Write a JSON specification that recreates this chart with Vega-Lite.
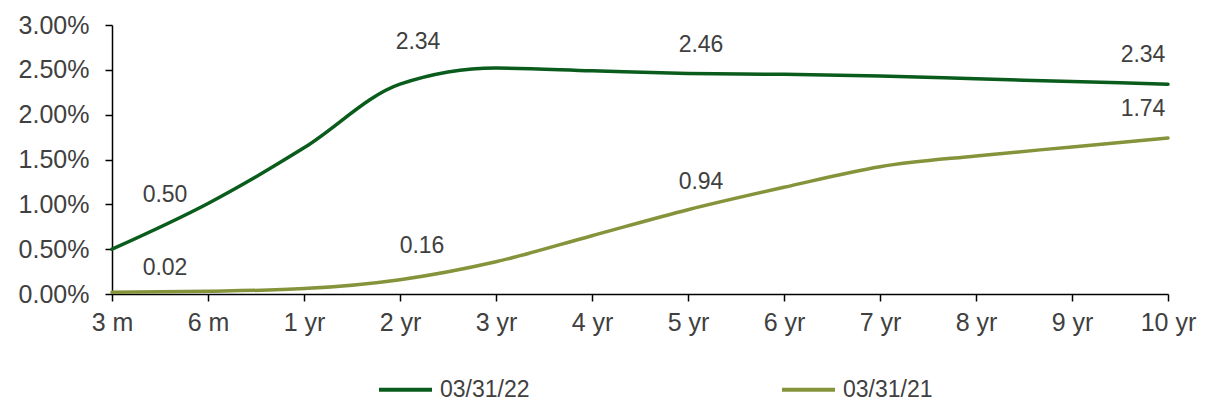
{
  "$schema": "https://vega.github.io/schema/vega-lite/v6.json",
  "width": 1056,
  "height": 269,
  "autosize": {"type": "none"},
  "padding": {"left": 112, "top": 25, "right": 40, "bottom": 109},
  "background": "white",
  "config": {
    "view": {"stroke": null},
    "font": "Liberation Sans",
    "text": {"font": "Liberation Sans", "fontSize": 23, "color": "#404040"}
  },
  "data": {
    "values": [
      {"term": "3 m", "series": "03/31/22", "rate": 0.50},
      {"term": "6 m", "series": "03/31/22", "rate": 1.01},
      {"term": "1 yr", "series": "03/31/22", "rate": 1.63},
      {"term": "2 yr", "series": "03/31/22", "rate": 2.34},
      {"term": "3 yr", "series": "03/31/22", "rate": 2.52},
      {"term": "4 yr", "series": "03/31/22", "rate": 2.49},
      {"term": "5 yr", "series": "03/31/22", "rate": 2.46},
      {"term": "6 yr", "series": "03/31/22", "rate": 2.45},
      {"term": "7 yr", "series": "03/31/22", "rate": 2.43},
      {"term": "8 yr", "series": "03/31/22", "rate": 2.40},
      {"term": "9 yr", "series": "03/31/22", "rate": 2.37},
      {"term": "10 yr", "series": "03/31/22", "rate": 2.34},
      {"term": "3 m", "series": "03/31/21", "rate": 0.02},
      {"term": "6 m", "series": "03/31/21", "rate": 0.03},
      {"term": "1 yr", "series": "03/31/21", "rate": 0.06},
      {"term": "2 yr", "series": "03/31/21", "rate": 0.16},
      {"term": "3 yr", "series": "03/31/21", "rate": 0.36},
      {"term": "4 yr", "series": "03/31/21", "rate": 0.65},
      {"term": "5 yr", "series": "03/31/21", "rate": 0.94},
      {"term": "6 yr", "series": "03/31/21", "rate": 1.19},
      {"term": "7 yr", "series": "03/31/21", "rate": 1.42},
      {"term": "8 yr", "series": "03/31/21", "rate": 1.54},
      {"term": "9 yr", "series": "03/31/21", "rate": 1.64},
      {"term": "10 yr", "series": "03/31/21", "rate": 1.74}
    ]
  },
  "encoding": {
    "x": {
      "field": "term", "type": "ordinal",
      "sort": ["3 m", "6 m", "1 yr", "2 yr", "3 yr", "4 yr", "5 yr", "6 yr", "7 yr", "8 yr", "9 yr", "10 yr"],
      "scale": {"type": "point", "padding": 0},
      "axis": {
        "title": null, "labelAngle": 0, "labelFontSize": 25, "labelColor": "#404040",
        "labelFont": "Liberation Sans", "domainColor": "#000000", "domainWidth": 1.5,
        "tickColor": "#000000", "tickWidth": 1.5, "tickSize": 7, "labelPadding": 9, "grid": false
      }
    },
    "y": {
      "field": "rate", "type": "quantitative",
      "scale": {"domain": [0, 3], "nice": false},
      "axis": {
        "title": null, "values": [0, 0.5, 1, 1.5, 2, 2.5, 3],
        "labelExpr": "format(datum.value, '.2f') + '%'",
        "labelFontSize": 25, "labelColor": "#404040", "labelFont": "Liberation Sans",
        "domainColor": "#000000", "domainWidth": 1.5, "tickColor": "#000000", "tickWidth": 1.5,
        "tickSize": 7, "labelPadding": 16, "grid": false
      }
    }
  },
  "layer": [
    {
      "mark": {"type": "line", "interpolate": "monotone", "strokeWidth": 3.5, "strokeCap": "round"},
      "encoding": {
        "color": {
          "field": "series", "type": "nominal",
          "sort": ["03/31/22", "03/31/21"],
          "scale": {"domain": ["03/31/22", "03/31/21"], "range": ["#0a5c1c", "#86933b"]},
          "legend": {
            "title": null, "orient": "none", "direction": "horizontal",
            "legendX": 265, "legendY": 336,
            "symbolType": "stroke", "symbolSize": 2809, "symbolStrokeWidth": 4,
            "labelFontSize": 23, "labelColor": "#404040", "labelFont": "Liberation Sans",
            "labelOffset": 6, "columnPadding": 244, "padding": 0
          }
        }
      }
    },
    {
      "transform": [{"filter": "datum.term == '3 m' && datum.series == '03/31/22'"}],
      "mark": {"type": "text", "dx": 53, "dy": -54, "baseline": "middle"},
      "encoding": {"text": {"field": "rate", "type": "quantitative", "format": ".2f"}}
    },
    {
      "transform": [{"filter": "datum.term == '3 m' && datum.series == '03/31/21'"}],
      "mark": {"type": "text", "dx": 53, "dy": -24, "baseline": "middle"},
      "encoding": {"text": {"field": "rate", "type": "quantitative", "format": ".2f"}}
    },
    {
      "transform": [{"filter": "datum.term == '2 yr' && datum.series == '03/31/22'"}],
      "mark": {"type": "text", "dx": 18, "dy": -42, "baseline": "middle"},
      "encoding": {"text": {"field": "rate", "type": "quantitative", "format": ".2f"}}
    },
    {
      "transform": [{"filter": "datum.term == '2 yr' && datum.series == '03/31/21'"}],
      "mark": {"type": "text", "dx": 22, "dy": -34, "baseline": "middle"},
      "encoding": {"text": {"field": "rate", "type": "quantitative", "format": ".2f"}}
    },
    {
      "transform": [{"filter": "datum.term == '5 yr'"}],
      "mark": {"type": "text", "dx": 13, "dy": -28, "baseline": "middle"},
      "encoding": {"text": {"field": "rate", "type": "quantitative", "format": ".2f"}}
    },
    {
      "transform": [{"filter": "datum.term == '10 yr'"}],
      "mark": {"type": "text", "dx": -25, "dy": -29, "baseline": "middle"},
      "encoding": {"text": {"field": "rate", "type": "quantitative", "format": ".2f"}}
    }
  ]
}
